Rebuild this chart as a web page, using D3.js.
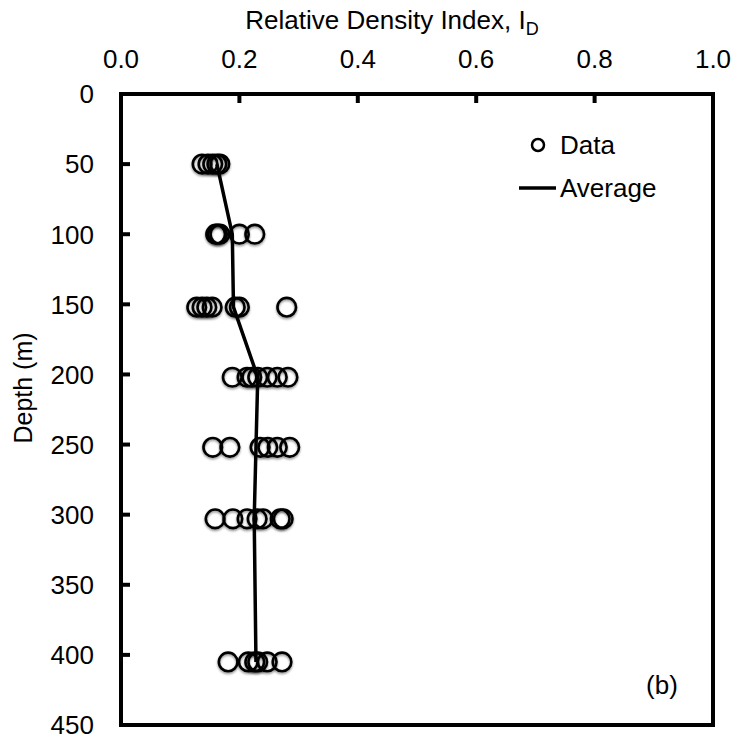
<!DOCTYPE html>
<html>
<head>
<meta charset="utf-8">
<script src="https://cdn.jsdelivr.net/npm/d3@7"></script>
<style>
  body { margin: 0; background: #fff; }
  text { font-family: "Liberation Sans", Arial, sans-serif; fill: #000; }
</style>
</head>
<body>
<div id="svg_div"></div>
<script>
// Measured relative density (I_D) at each depth
var depths = [50, 100, 152, 202, 252, 303, 405];
var dataValues = [
    [0.137, 0.147, 0.155, 0.162, 0.167],
    [0.160, 0.163, 0.167, 0.200, 0.226],
    [0.128, 0.137, 0.145, 0.154, 0.193, 0.200, 0.280],
    [0.188, 0.213, 0.221, 0.231, 0.247, 0.264, 0.282],
    [0.155, 0.184, 0.235, 0.248, 0.264, 0.285],
    [0.159, 0.189, 0.213, 0.230, 0.240, 0.269, 0.274],
    [0.181, 0.215, 0.226, 0.231, 0.247, 0.272]
];
// Average line
var avgDepths = [50, 100, 152, 202, 252, 303, 405];
var avgValues = [0.162, 0.188, 0.190, 0.231, 0.228, 0.225, 0.228];

var xTicks = [0.0, 0.2, 0.4, 0.6, 0.8, 1.0];
var yTicks = [0, 50, 100, 150, 200, 250, 300, 350, 400, 450];

var svg = d3.select("#svg_div").append("svg").attr("width", 739).attr("height", 740);

// soft shadow like the original markers
var defs = svg.append("defs");
var f = defs.append("filter").attr("id", "soft")
    .attr("x", "-50%").attr("y", "-50%").attr("width", "200%").attr("height", "200%");
f.append("feDropShadow").attr("dx", 0).attr("dy", 1.5)
    .attr("stdDeviation", 1.2).attr("flood-color", "#000").attr("flood-opacity", 0.45);

var margin = {top: 94, left: 121, bottom: 15, right: 26};
var width = 739 - margin.left - margin.right;
var height = 740 - margin.top - margin.bottom;

var xScale = d3.scaleLinear().domain([0, 1]).range([0, width]);
var yScale = d3.scaleLinear().domain([0, 450]).range([0, height]);

var g = svg.append("g").attr("transform", "translate(" + [margin.left, margin.top] + ")");

// Tick marks (inside the frame)
g.selectAll(".xtick").data(xTicks).enter().append("line")
    .attr("x1", function(d) { return xScale(d); })
    .attr("x2", function(d) { return xScale(d); })
    .attr("y1", 0).attr("y2", 9)
    .attr("stroke", "#000").attr("stroke-width", 4);

g.selectAll(".ytick").data(yTicks).enter().append("line")
    .attr("x1", 0).attr("x2", 9)
    .attr("y1", function(d) { return yScale(d); })
    .attr("y2", function(d) { return yScale(d); })
    .attr("stroke", "#000").attr("stroke-width", 4);

// Tick labels
g.selectAll(".xlab").data(xTicks).enter().append("text")
    .attr("x", function(d) { return xScale(d); })
    .attr("y", -26)
    .attr("text-anchor", "middle")
    .style("font-size", "26px")
    .text(function(d) { return d3.format(".1f")(d); });

g.selectAll(".ylab").data(yTicks).enter().append("text")
    .attr("x", -27)
    .attr("y", function(d) { return yScale(d); })
    .attr("dy", "0.36em")
    .attr("text-anchor", "end")
    .style("font-size", "26px")
    .text(function(d) { return d; });

// Axis titles
var xt = svg.append("text")
    .attr("x", 392).attr("y", 29)
    .attr("text-anchor", "middle")
    .style("font-size", "26px");
xt.append("tspan").text("Relative Density Index, I");
xt.append("tspan").attr("dy", 6).style("font-size", "18px").text("D");

svg.append("text")
    .attr("transform", "translate(32,388) rotate(-90)")
    .attr("text-anchor", "middle")
    .style("font-size", "25px")
    .text("Depth (m)");

// Average line
var line = d3.line()
    .x(function(d, i) { return xScale(avgValues[i]); })
    .y(function(d) { return yScale(d); });

g.append("path")
    .datum(avgDepths)
    .attr("d", line)
    .attr("fill", "none")
    .attr("stroke", "#000")
    .attr("stroke-width", 3.5);

// Data points
var points = [];
depths.forEach(function(dep, i) {
    dataValues[i].forEach(function(v) { points.push({depth: dep, value: v}); });
});

g.selectAll(".pt").data(points).enter().append("circle")
    .attr("cx", function(d) { return xScale(d.value); })
    .attr("cy", function(d) { return yScale(d.depth); })
    .attr("r", 9.3)
    .attr("fill", "none")
    .attr("stroke", "#000")
    .attr("stroke-width", 2.6)
    .attr("filter", "url(#soft)");

// Frame
g.append("rect")
    .attr("width", width).attr("height", height)
    .attr("fill", "none").attr("stroke", "#000").attr("stroke-width", 4);

// Legend
svg.append("circle").attr("cx", 538).attr("cy", 145).attr("r", 6)
    .attr("fill", "none").attr("stroke", "#000").attr("stroke-width", 2.5);
svg.append("text").attr("x", 560).attr("y", 145).attr("dy", "0.36em")
    .style("font-size", "26px").text("Data");
svg.append("line").attr("x1", 519).attr("x2", 556).attr("y1", 188).attr("y2", 188)
    .attr("stroke", "#000").attr("stroke-width", 3.5);
svg.append("text").attr("x", 560).attr("y", 188).attr("dy", "0.36em")
    .style("font-size", "26px").text("Average");

svg.append("text").attr("x", 662).attr("y", 685).attr("dy", "0.36em")
    .attr("text-anchor", "middle")
    .style("font-size", "26px").text("(b)");
</script>
</body>
</html>
